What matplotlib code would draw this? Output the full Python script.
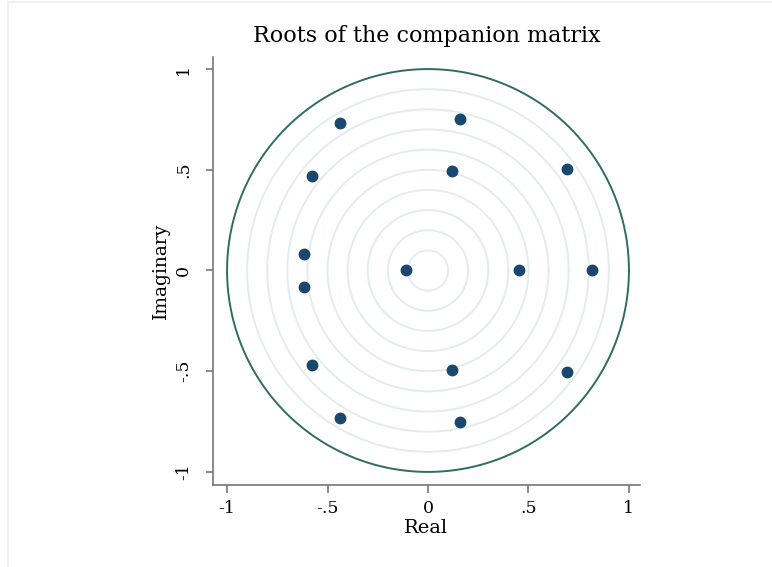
import numpy as np
import matplotlib.pyplot as plt
from matplotlib.lines import Line2D

# eigenvalues of the companion matrix (conjugate pairs)
real_part = [-0.438, -0.438, 0.159, 0.159, -0.577, -0.577, 0.119, 0.119,
             0.692, 0.692, -0.617, -0.617, -0.109, 0.453, 0.816]
imag_part = [0.734, -0.734, 0.752, -0.752, 0.467, -0.467, 0.494, -0.494,
             0.503, -0.503, 0.080, -0.080, 0.0, 0.0, 0.0]

ring_radii = [0.1, 0.2, 0.3, 0.4, 0.5, 0.6, 0.7, 0.8, 0.9]
tick_vals = [-1, -0.5, 0, 0.5, 1]
tick_labels = ["-1", "-.5", "0", ".5", "1"]

plt.rcParams['font.family'] = ['DejaVu Serif']

fig = plt.figure(figsize=(7.72, 5.67), dpi=100)
ax = fig.add_axes([0.2759, 0.1446, 0.5531, 0.7549])

theta = np.linspace(0, 2 * np.pi, 400)
for r in ring_radii:
    ax.plot(r * np.cos(theta), r * np.sin(theta), color='#e3ecee', lw=1.4, zorder=1)
ax.plot(np.cos(theta), np.sin(theta), color='#2f6d62', lw=1.4, zorder=2)

ax.plot(real_part, imag_part, 'o', color='#1a476f', markersize=7.5, zorder=3)

ax.set_xlim(-1.07, 1.055)
ax.set_ylim(-1.065, 1.06)
ax.set_xticks(tick_vals)
ax.set_xticklabels(tick_labels)
ax.set_yticks(tick_vals)
ax.set_yticklabels(tick_labels, rotation=90, va='center')

for side in ['top', 'right']:
    ax.spines[side].set_visible(False)
for side in ['left', 'bottom']:
    ax.spines[side].set_color('#777777')
    ax.spines[side].set_linewidth(1.2)
ax.tick_params(colors='#777777', width=1.2, labelsize=12.5, labelcolor='black')
ax.tick_params(axis='x', length=6, pad=5)
ax.tick_params(axis='y', length=5, pad=10)

ax.set_xlabel('Real', fontsize=14, labelpad=1)
ax.set_ylabel('Imaginary', fontsize=13.5, labelpad=4)
fig.text(0.553, 0.936, 'Roots of the companion matrix', ha='center', va='center', fontsize=16)

# thin frame around the graph region
fig.add_artist(Line2D([0.0104, 1.0], [0.996, 0.996], color='#edf1f2', lw=1.5))
fig.add_artist(Line2D([0.0104, 0.0104], [0.0, 0.996], color='#edf1f2', lw=1.5))

fig.savefig('out.png', dpi=100, facecolor='white')
